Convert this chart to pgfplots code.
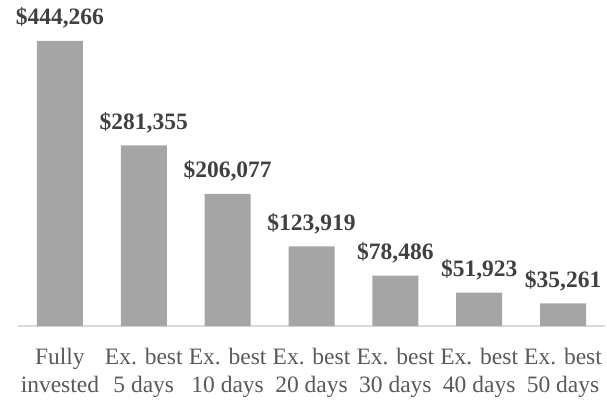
\documentclass[border=0pt]{standalone}
\usepackage{pgfplots}
\pgfplotsset{compat=1.18}
\usepackage{fontspec}
\setmainfont{Liberation Serif}
\definecolor{barc}{HTML}{A5A5A5}
\definecolor{valc}{HTML}{404040}
\definecolor{labc}{HTML}{595959}
\definecolor{basec}{HTML}{D9D9D9}
\begin{document}
\begin{tikzpicture}
\useasboundingbox (0pt,0pt) rectangle (607pt,400pt);
\begin{axis}[
  at={(18pt,74pt)}, anchor=south west,
  scale only axis,
  width=587pt, height=320.8pt,
  xmin=-0.5, xmax=6.5, ymin=0, ymax=500000,
  enlargelimits=false, clip=false,
  axis y line=none,
  axis x line*=bottom,
  x axis line style={-, draw=basec, line width=1.2pt},
  xtick=data,
  xticklabels={{Fully\\invested},{Ex. best\\5 days},{Ex. best\\10 days},{Ex. best\\20 days},{Ex. best\\30 days},{Ex. best\\40 days},{Ex. best\\50 days}},
  major tick length=0pt,
  xticklabel style={align=center, anchor=north, inner sep=0pt, yshift=-22pt, text=labc, font=\fontsize{23.5}{28}\selectfont},
  ybar, bar width=46pt,
  point meta=explicit symbolic,
  nodes near coords,
  nodes near coords style={anchor=base, inner sep=0pt, yshift=16pt, text=valc, font=\fontsize{23.5}{28}\selectfont\bfseries},
]
\addplot[fill=barc, draw=none] table[meta=label] {
x y label
0 444266 {\$444,266}
1 281355 {\$281,355}
2 206077 {\$206,077}
3 123919 {\$123,919}
4 78486 {\$78,486}
5 51923 {\$51,923}
6 35261 {\$35,261}
};
\end{axis}
\end{tikzpicture}
\end{document}
